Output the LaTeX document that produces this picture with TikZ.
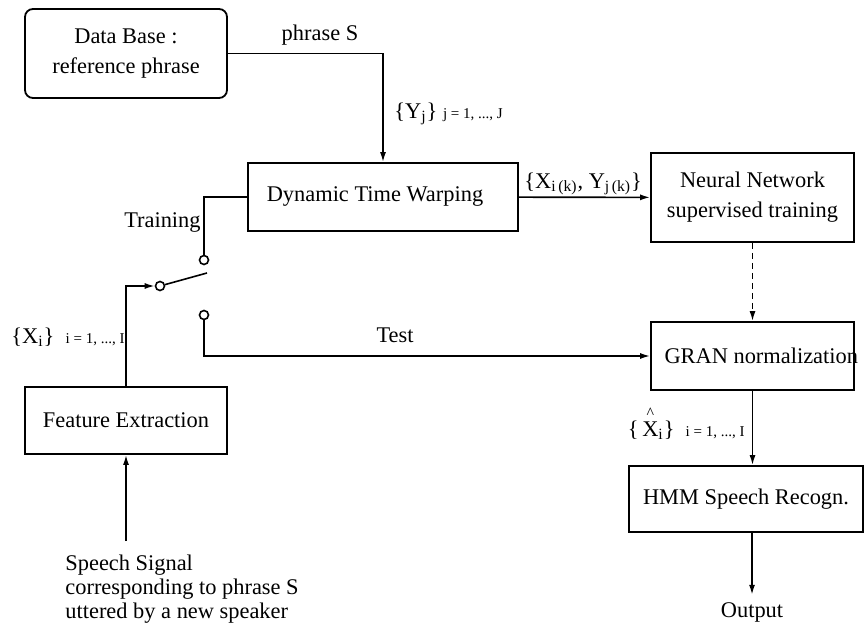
\documentclass[tikz,border=0pt]{standalone}
\usepackage{fontspec}
\setmainfont{Liberation Serif}
\usepackage{xcolor}
\definecolor{Black}{RGB}{0,0,0}
\definecolor{White}{RGB}{255,255,255}
\newcommand{\idxrange}[1]	{{\fontsize{7.5}{9}\selectfont #1}}
\newcommand{\Xhat}			{\makebox[0pt][l]{\raisebox{1.75ex}{\hspace{0.2em}\fontsize{8}{8}\selectfont\textasciicircum}}X}
\usetikzlibrary{arrows.meta}

\begin{document}
\begin{tikzpicture}[x=0.5pt, y=-0.5pt,
		font=\fontsize{11.2}{12}\selectfont,
		block/.style={draw=Black, line width=0.9pt, align=center, inner sep=0pt, font=\fontsize{11.2}{15}\selectfont},
		contact/.style={circle, draw=Black, line width=0.8pt, fill=White, inner sep=0pt, minimum size=4.5pt},
		wire/.style={draw=Black, line width=0.8pt},
		arr/.style={wire, -{Latex[length=5pt, width=3pt]}},
		lbl/.style={inner sep=1pt}]
		
		\useasboundingbox (0,0) rectangle (865,625);
		
		% Blocks
		\node[block, rounded corners=4pt, minimum width=101pt, minimum height=44.5pt] (db) at (126,53.5) {Data Base :\\reference phrase};
		\node[block, minimum width=135pt, minimum height=34pt] (dtw) at (383,197) {\hspace*{-8pt}Dynamic Time Warping};
		\node[block, minimum width=101.5pt, minimum height=44.5pt] (nn) at (752.5,197.5) {Neural Network\\supervised training};
		\node[block, minimum width=101.5pt, minimum height=34pt] (gran) at (752.5,356) {};
		\node[lbl, anchor=west] (grantxt) at ([xshift=6pt]gran.west) {GRAN normalization};
		\node[block, minimum width=101pt, minimum height=33.5pt] (fe) at (126,420.5) {Feature Extraction};
		\node[block, minimum width=117pt, minimum height=33pt] (hmm) at (746,499) {HMM Speech Recogn.};
		
		% Switch
		\node[contact] (tc) at (204,260) {};
		\node[contact] (pv) at (160,286) {};
		\node[contact] (bc) at (204,315) {};
		\coordinate (blade) at (207,273);
		\draw[wire] (pv) -- (blade);
		
		% Input and output
		\node[lbl, anchor=north west, align=left, inner xsep=3pt, inner ysep=7pt] (sp) at (59,541) {Speech Signal\\corresponding to phrase S\\uttered by a new speaker};
		\node[lbl, inner sep=3.5pt] (out) at (752,612) {Output};
		
		% Connections
		\draw[arr] (db.east) -| (dtw.north);
		\draw[arr] (dtw) -- (nn);
		\draw[arr, dash pattern=on 3pt off 2pt] (nn) -- (gran);
		\draw[arr] (gran) -- (gran |- hmm.north);
		\draw[arr] (hmm.south -| out) -- (out);
		\draw[wire] (dtw.west) -| (tc.north);
		\draw[arr] (fe.north) |- (pv.west);
		\draw[arr] (bc.south) |- (gran.west);
		\draw[arr] (sp.north -| fe) -- (fe);
		
		% Labels
		\node[lbl] (phr) at (320,35) {phrase S};
		\node[lbl, anchor=west] (ylbl) at (392,114) {\{Y\textsubscript{j}\}\ \idxrange{j = 1, ..., J}};
		\node[lbl, anchor=west] (xylbl) at (522,184) {\{X\textsubscript{i\,(k)}, Y\textsubscript{j\,(k)}\}};
		\node[lbl, anchor=east] (trn) at (203,223) {Training};
		\node[lbl] (tst) at (395,335) {Test};
		\node[lbl, anchor=west] (xlbl) at (9,337) {\{X\textsubscript{i}\}\ \ \idxrange{i = 1, ..., I}};
		\node[lbl, anchor=east] (xhlbl) at (747,424) {\{\,\Xhat\textsubscript{i}\}\ \ \idxrange{i = 1, ..., I}};
		
	\end{tikzpicture}
\end{document}
